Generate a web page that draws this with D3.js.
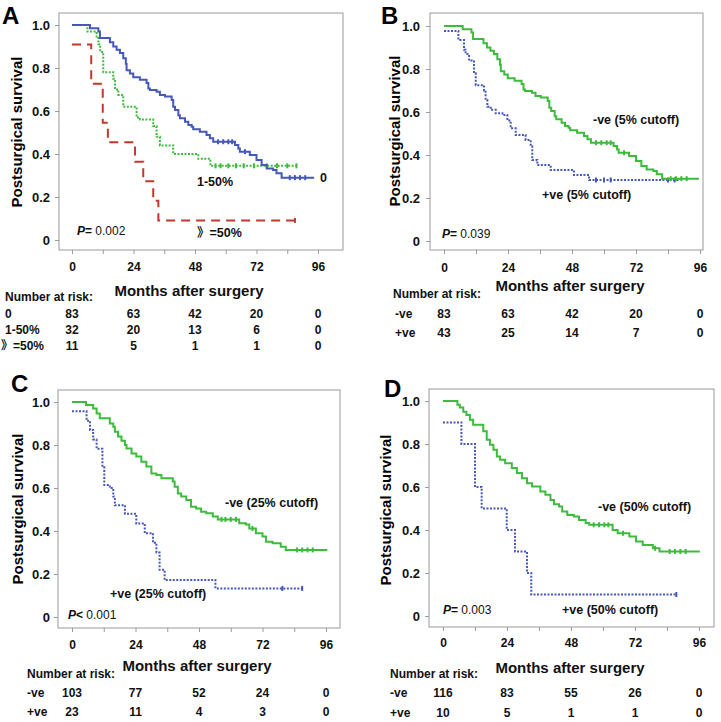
<!DOCTYPE html>
<html><head><meta charset="utf-8">
<script src="https://cdn.jsdelivr.net/npm/d3@7"></script>
<style>
body{margin:0;background:#fff}
svg{font-family:"Liberation Sans",Arial,"Noto Sans CJK SC",sans-serif}
</style></head><body>
<svg id="chart" width="721" height="722"></svg>
<script>
// ---------- shared axis data ----------
const monthTickLabels = [0, 24, 48, 72, 96];
const monthTickMarks = [0, 12, 24, 36, 48, 60, 72, 84, 96];
const survivalTicks = [0, 0.2, 0.4, 0.6, 0.8, 1.0];

// ---------- Panel A / B : 0% group (= -ve at 5% cutoff) ----------
const zeroStart = 1;
const zeroSteps = [[7,0.985],[10.3,0.97],[10.9,0.94],[14.8,0.92],[16.1,0.90],[17.4,0.885],[18.7,0.87],[20,0.845],[21,0.82],[21.3,0.79],[22.6,0.775],[23.9,0.757],[26.5,0.745],[29.1,0.73],[29.8,0.705],[30.4,0.698],[33,0.69],[34.3,0.675],[36.3,0.667],[38.9,0.651],[39.5,0.62],[40.2,0.605],[41.5,0.58],[42.1,0.566],[44.1,0.55],[45.4,0.535],[46.7,0.527],[47.3,0.515],[49.9,0.504],[52.5,0.488],[53.8,0.473],[55.1,0.457],[63.6,0.442],[64.9,0.426],[65.5,0.411],[69.4,0.395],[72,0.372],[74,0.349],[76,0.333],[78.5,0.326],[79.8,0.31],[81.8,0.29]];
const zeroCensored = [57, 59, 61, 62.5, 67.5, 85, 87, 89, 91];
const zeroEnd = 94.5;

// Panel A : 1-50% group
const midStart = 1;
const midSteps = [[6,0.97],[9.6,0.94],[10.3,0.91],[11,0.875],[12.2,0.78],[16.1,0.75],[16.8,0.70],[18.1,0.675],[20,0.62],[25.2,0.57],[26.5,0.56],[31.7,0.53],[33,0.48],[34.3,0.44],[39.5,0.40],[49.3,0.378],[54,0.345]];
const midCensored = [56, 58, 61, 64, 67, 71, 76, 80, 84, 87.6];
const midEnd = 87.6;

// Panel A : >=50% group
const highStart = 0.909;
const highSteps = [[7.5,0.727],[12,0.545],[14,0.4545],[24.6,0.364],[27.8,0.273],[31.7,0.182],[33.7,0.091]];
const highCensored = [87];
const highEnd = 87;

// Panel B : +ve (5% cutoff)
const pos5Start = 0.977;
const pos5Steps = [[5.4,0.935],[7.5,0.89],[8.1,0.87],[9.4,0.84],[11.25,0.78],[11.9,0.725],[15,0.70],[15.6,0.656],[16.25,0.625],[17.5,0.61],[19.4,0.594],[21.9,0.586],[23.75,0.56],[25,0.524],[26.9,0.493],[30.6,0.47],[32.5,0.44],[33.1,0.377],[35,0.353],[40,0.33],[48.75,0.307],[54.4,0.284]];
const pos5Censored = [57, 60, 62.5, 84, 86.5];
const pos5End = 88;

// Panel C : -ve (25% cutoff)
const neg25Start = 1;
const neg25Steps = [[5.3,0.986],[8,0.97],[9.3,0.947],[10.5,0.924],[14.3,0.9],[15.6,0.885],[16.2,0.862],[17.4,0.839],[18.7,0.82],[20,0.8],[20.6,0.784],[22.5,0.761],[24.3,0.746],[26.2,0.722],[28.1,0.7],[30,0.668],[31.9,0.66],[33.8,0.645],[38.1,0.63],[38.8,0.606],[40,0.575],[41.3,0.56],[43.2,0.544],[45,0.513],[46.9,0.505],[48.8,0.49],[50.7,0.482],[53.2,0.467],[55.1,0.454],[63.2,0.436],[65.7,0.43],[67,0.412],[69.5,0.389],[72,0.374],[73.3,0.35],[75.8,0.343],[78.9,0.327],[80.8,0.312]];
const neg25Censored = [56.5, 58, 60, 62, 68.2, 85, 87, 89, 91];
const neg25End = 96.5;

// Panel C : +ve (25% cutoff)
const pos25Start = 0.957;
const pos25Steps = [[5.5,0.913],[6.8,0.87],[8,0.826],[9.3,0.783],[11.5,0.696],[12.2,0.614],[14.3,0.6],[15.6,0.56],[16.2,0.52],[20,0.48],[24.3,0.435],[27.5,0.39],[30.6,0.345],[31.9,0.3],[33.1,0.22],[35,0.172],[54.2,0.133]];
const pos25Censored = [79.5, 87];
const pos25End = 87;

// Panel D : -ve (50% cutoff)
const neg50Start = 1;
const neg50Steps = [[5.4,0.983],[6.3,0.97],[7.6,0.95],[8.8,0.935],[10.1,0.913],[11.3,0.89],[15.1,0.859],[16.4,0.82],[17.6,0.797],[18.9,0.773],[20.2,0.742],[21.4,0.727],[23.3,0.711],[25.8,0.688],[27.7,0.665],[29.6,0.641],[31.5,0.618],[33.4,0.602],[36.5,0.579],[38.4,0.564],[40.3,0.54],[41.6,0.52],[43.5,0.509],[44.7,0.486],[46.6,0.47],[49.1,0.463],[51,0.447],[53.5,0.432],[54.8,0.424],[63.6,0.4],[65.5,0.385],[69.9,0.37],[72.4,0.346],[74.9,0.33],[78.7,0.315],[81.2,0.3]];
const neg50Censored = [56.5, 58.5, 60.5, 62, 67.5, 79.5, 85, 87, 89, 91];
const neg50End = 96.3;

// Panel D : +ve (50% cutoff)
const pos50Start = 0.9;
const pos50Steps = [[6.9,0.8],[12,0.6],[14.5,0.5],[23.9,0.4],[27,0.3],[31.5,0.2],[33.1,0.1]];
const pos50Censored = [87.5];
const pos50End = 87.5;

// ---------- numbers at risk ----------
const riskALabels = ["0", "1-50%", "》=50%"];
const riskAZero = [83, 63, 42, 20, 0];
const riskAMid = [32, 20, 13, 6, 0];
const riskAHigh = [11, 5, 1, 1, 0];
const riskBLabels = ["-ve", "+ve"];
const riskBNeg = [83, 63, 42, 20, 0];
const riskBPos = [43, 25, 14, 7, 0];
const riskCNeg = [103, 77, 52, 24, 0];
const riskCPos = [23, 11, 4, 3, 0];
const riskDNeg = [116, 83, 55, 26, 0];
const riskDPos = [10, 5, 1, 1, 0];

const pValues = ["0.002", "0.039", "0.001", "0.003"];

// ---------- styles ----------
const BLUE = "#4658b8", GREEN = "#3dbb3d", RED = "#c0392b", GREY = "#9a9a9a";
const SOLID = null, DOTTED = "2,1.5", DASHED = "9,6";

const panels = [
  { letter:"A", letterPos:[2,24], frame:[59,13,343,250], xr:[72,318], yr:[240,25], yPad:5, xPad:8,
    ytitle:[16,132], months:[189,296], riskHead:[5,301], rowX:[5,5,1], rowY:[318,334,350],
    risk:[[riskALabels[0],riskAZero],[riskALabels[1],riskAMid],[riskALabels[2],riskAHigh]],
    curves:[
      {start:midStart, steps:midSteps, cens:midCensored, end:midEnd, color:GREEN, dash:DOTTED},
      {start:highStart, steps:highSteps, cens:highCensored, end:highEnd, color:RED, dash:DASHED},
      {start:zeroStart, steps:zeroSteps, cens:zeroCensored, end:zeroEnd, color:BLUE, dash:SOLID}],
    labels:[["1-50%",197,186],["0",320,182],["》=50%",197,237]],
    p:[77,235,"=",pValues[0]] },
  { letter:"B", letterPos:[381,24], frame:[430,13,703,250], xr:[444,700], yr:[241,26], yPad:6, xPad:9,
    ytitle:[394,131], months:[570,291], riskHead:[393,298], rowX:[395,395], rowY:[318,337],
    risk:[[riskBLabels[0],riskBNeg],[riskBLabels[1],riskBPos]],
    curves:[
      {start:pos5Start, steps:pos5Steps, cens:pos5Censored, end:pos5End, color:BLUE, dash:DOTTED},
      {start:zeroStart, steps:zeroSteps, cens:zeroCensored, end:95.6, color:GREEN, dash:SOLID}],
    labels:[["-ve (5% cutoff)",593,124],["+ve (5% cutoff)",542,199]],
    p:[442,238,"=",pValues[1]] },
  { letter:"C", letterPos:[11,392], frame:[58,390,340,628], xr:[72,326], yr:[617,402], yPad:4, xPad:8,
    ytitle:[17,509], months:[197,671], riskHead:[27,678], rowX:[27,27], rowY:[697,716],
    risk:[[riskBLabels[0],riskCNeg],[riskBLabels[1],riskCPos]],
    curves:[
      {start:pos25Start, steps:pos25Steps, cens:pos25Censored, end:pos25End, color:BLUE, dash:DOTTED},
      {start:neg25Start, steps:neg25Steps, cens:neg25Censored, end:neg25End, color:GREEN, dash:SOLID}],
    labels:[["-ve (25% cutoff)",225,507],["+ve (25% cutoff)",110,598]],
    p:[68,619,"<",pValues[2]] },
  { letter:"D", letterPos:[384,397], frame:[429,389,714,627], xr:[443,699], yr:[616,401], yPad:5, xPad:7,
    ytitle:[385,510], months:[570,673], riskHead:[390,678], rowX:[390,390], rowY:[697,717],
    risk:[[riskBLabels[0],riskDNeg],[riskBLabels[1],riskDPos]],
    curves:[
      {start:pos50Start, steps:pos50Steps, cens:pos50Censored, end:pos50End, color:BLUE, dash:DOTTED},
      {start:neg50Start, steps:neg50Steps, cens:neg50Censored, end:neg50End, color:GREEN, dash:SOLID}],
    labels:[["-ve (50% cutoff)",598,511],["+ve (50% cutoff)",562,614]],
    p:[443,614,"=",pValues[3]] }
];

function survAt(start, steps, t) {
  let s = start;
  for (const [tt, v] of steps) { if (tt <= t) s = v; else break; }
  return s;
}

const svg = d3.select("#chart");

panels.forEach(P => {
  const g = svg.append("g");
  const x = d3.scaleLinear().domain([0, 96]).range(P.xr);
  const y = d3.scaleLinear().domain([0, 1]).range(P.yr);
  const [fl, ft, fr, fb] = P.frame;

  g.append("rect").attr("x", fl).attr("y", ft).attr("width", fr - fl).attr("height", fb - ft)
    .attr("fill", "none").attr("stroke", GREY).attr("stroke-width", 1);

  // y axis
  const ya = g.append("g").attr("transform", `translate(${fl},0)`)
    .call(d3.axisLeft(y).tickValues(survivalTicks).tickSize(4).tickPadding(P.yPad)
      .tickFormat(d => d === 0 ? "0" : d3.format(".1f")(d)));
  ya.select(".domain").remove();
  ya.selectAll("line").attr("stroke", GREY);
  ya.selectAll("text").attr("font-size", 13).attr("font-weight", "bold").attr("fill", "#111")
    .attr("font-family", '"Liberation Sans",Arial,sans-serif');

  // x axis
  const xa = g.append("g").attr("transform", `translate(0,${fb})`)
    .call(d3.axisBottom(x).tickValues(monthTickMarks).tickSize(4).tickPadding(P.xPad)
      .tickFormat(d => monthTickLabels.includes(d) ? String(d) : ""));
  xa.select(".domain").remove();
  xa.selectAll("line").attr("stroke", GREY);
  xa.selectAll("text").attr("font-size", 12).attr("font-weight", "bold").attr("fill", "#111")
    .attr("font-family", '"Liberation Sans",Arial,sans-serif');

  // curves
  const line = d3.line().x(d => x(d[0])).y(d => y(d[1])).curve(d3.curveStepAfter);
  P.curves.forEach(c => {
    const last = c.steps.length ? c.steps[c.steps.length - 1][1] : c.start;
    const pts = [[0, c.start], ...c.steps, [c.end, last]];
    g.append("path").attr("d", line(pts)).attr("fill", "none")
      .attr("stroke", c.color).attr("stroke-width", 2)
      .attr("stroke-dasharray", c.dash);
    g.selectAll(null).data(c.cens).enter().append("line")
      .attr("x1", d => x(d)).attr("x2", d => x(d))
      .attr("y1", d => y(survAt(c.start, c.steps, d)) - 2.5)
      .attr("y2", d => y(survAt(c.start, c.steps, d)) + 2.5)
      .attr("stroke", c.color).attr("stroke-width", 2);
  });

  // curve labels
  P.labels.forEach(([t, lx, ly]) => {
    g.append("text").attr("x", lx).attr("y", ly).attr("font-size", 12.5)
      .attr("font-weight", "bold").attr("fill", "#111").text(t);
  });

  // p-value
  const pt = g.append("text").attr("x", P.p[0]).attr("y", P.p[1]).attr("font-size", 12).attr("fill", "#111");
  pt.append("tspan").attr("font-style", "italic").attr("font-weight", "bold").text("P");
  pt.append("tspan").attr("font-weight", "bold").text(P.p[2] + " ");
  pt.append("tspan").text(P.p[3]);

  // panel letter
  g.append("text").attr("x", P.letterPos[0]).attr("y", P.letterPos[1]).attr("font-size", 24)
    .attr("font-weight", "bold").attr("fill", "#000").text(P.letter);

  // y title
  g.append("text").attr("transform", `translate(${P.ytitle[0]},${P.ytitle[1]}) rotate(-90)`)
    .attr("text-anchor", "middle").attr("dominant-baseline", "central")
    .attr("font-size", 15).attr("font-weight", "bold").attr("fill", "#000").text("Postsurgical survival");

  // x title
  g.append("text").attr("x", P.months[0]).attr("y", P.months[1]).attr("text-anchor", "middle")
    .attr("font-size", 15).attr("font-weight", "bold").attr("fill", "#111").text("Months after surgery");

  // number at risk
  g.append("text").attr("x", P.riskHead[0]).attr("y", P.riskHead[1])
    .attr("font-size", 12).attr("font-weight", "bold").attr("fill", "#111").text("Number at risk:");
  P.risk.forEach(([lab, vals], i) => {
    g.append("text").attr("x", P.rowX[i]).attr("y", P.rowY[i]).attr("font-size", 12)
      .attr("font-weight", "bold").attr("fill", "#111").text(lab);
    g.selectAll(null).data(vals).enter().append("text")
      .attr("x", (d, j) => x(monthTickLabels[j])).attr("y", P.rowY[i])
      .attr("text-anchor", "middle").attr("font-size", 12).attr("font-weight", "bold")
      .attr("fill", "#111").text(d => d);
  });
});
</script>
</body></html>
